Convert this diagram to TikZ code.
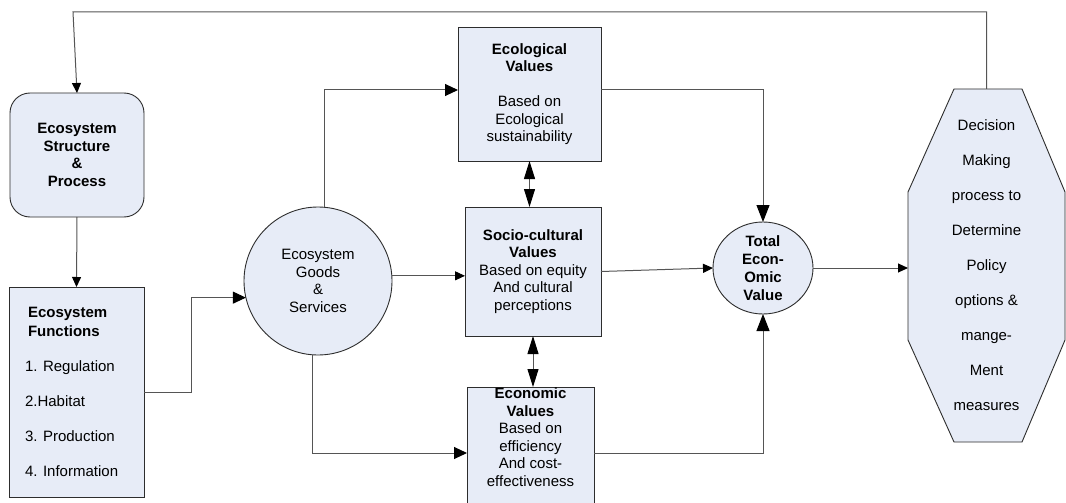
\documentclass[tikz,border=0pt]{standalone}
\usepackage{fontspec}
\setmainfont{Liberation Sans}
\usetikzlibrary{arrows.meta,calc,shapes.geometric}
\definecolor{boxfill}{RGB}{231,236,247}
\definecolor{edge}{RGB}{45,45,45}
\definecolor{wire}{RGB}{85,85,85}

\begin{document}
\begin{tikzpicture}[x=1pt,y=-1pt,
  every node/.style={font=\fontsize{15}{17.5}\selectfont, inner sep=0pt, outer sep=0pt},
  shapebox/.style={draw=edge, fill=boxfill, line width=0.9pt, align=center},
  wireline/.style={draw=wire, line width=1pt},
  tipsmall/.style={wireline, -{Triangle[length=10pt,width=9pt,black]}},
  tipmid/.style={wireline, -{Triangle[length=13pt,width=12pt,black]}},
  tipbig/.style={wireline, -{Triangle[length=17pt,width=13pt,black]}},
  tipboth/.style={wireline, {Triangle[length=18pt,width=11pt,black]}-{Triangle[length=18pt,width=11pt,black]}}
]
\useasboundingbox (0,0) rectangle (1066,503);
\fill[white] (0,0) rectangle (1066,503);

% left column
\node[shapebox, rounded corners=20pt, minimum width=134pt, minimum height=124pt]
  (esp) at (77,155) {\textbf{Ecosystem}\\\textbf{Structure}\\\textbf{\&}\\\textbf{Process}};
\node[shapebox, minimum width=135pt, minimum height=210pt] (efn) at (76.5,392) {};
\node[anchor=west, align=left] (efntext) at (25,392)
  {\hspace*{3pt}\textbf{Ecosystem}\\[1.5pt]\hspace*{3pt}\textbf{Functions}\\[17.5pt]
   1. Regulation\\[17.5pt]2.Habitat\\[17.5pt]3. Production\\[17.5pt]4. Information};

% goods and services
\node[shapebox, circle, minimum size=148pt] (eg) at (318,281)
  {Ecosystem\\Goods\\\&\\Services};

% value boxes
\node[shapebox, minimum width=143pt, minimum height=134pt] (eco) at (529.5,94)
  {\textbf{Ecological}\\\textbf{Values}\\[17.5pt]Based on\\Ecological\\sustainability};
\node[shapebox, minimum width=136pt, minimum height=129pt] (soc) at (533,271.5)
  {\textbf{Socio-cultural}\\\textbf{Values}\\Based on equity\\And cultural\\perceptions};
\node[shapebox, minimum width=127pt, minimum height=126pt] (econ) at (530.5,450) {};
\node[align=center] (econtext) at (530.5,437)
  {\textbf{Economic}\\\textbf{Values}\\Based on\\efficiency\\And cost-\\effectiveness};

% total economic value
\node[shapebox, ellipse, minimum width=100pt, minimum height=92pt] (tev) at (763,268)
  {\textbf{Total}\\[0.5pt]\textbf{Econ-}\\[0.5pt]\textbf{Omic}\\[0.5pt]\textbf{Value}};

% decision making octagon
\filldraw[fill=boxfill, draw=edge, line width=0.9pt]
  (954,89) -- (1022,89) -- (1065,192) -- (1065,340) -- (1022,442)
  -- (954,442) -- (908,340) -- (908,192) -- cycle;
\node[minimum width=157pt, minimum height=353pt, align=center] (dm) at (986.5,265.5)
  {Decision\\[17.5pt]Making\\[17.5pt]process to\\[17.5pt]Determine\\[17.5pt]Policy\\[17.5pt]options \&\\[17.5pt]mange-\\[17.5pt]Ment\\[17.5pt]measures};

\coordinate (fbk) at (73,12);

% connectors
\draw[tipsmall] (esp.south) -- (efn.north);
\draw[tipmid] (efn.east) -- ++(47,0) |- (eg.193);
\draw[tipmid] (eg.85) |- ($(eco.west)+(0,-4)$);
\draw[tipsmall] (eg.4) -- (eg.4 -| soc.west);
\draw[tipmid] (eg.-94) |- ($(econ.west)+(0,3)$);
\draw[tipboth] (eco.south) -- (eco.south |- soc.north);
\draw[tipboth] (soc.south) -- (soc.south |- econ.north);
\draw[tipbig] ($(eco.east)+(0,-4)$) -| (tev.north);
\draw[tipsmall] (soc.east) -- (tev.west);
\draw[tipbig] ($(econ.east)+(0,3)$) -| (tev.south);
\draw[tipsmall] (tev.east) -- (tev.east -| dm.west);
\draw[tipsmall] (dm.north) |- (fbk) -- (esp.north);
\end{tikzpicture}
\end{document}
